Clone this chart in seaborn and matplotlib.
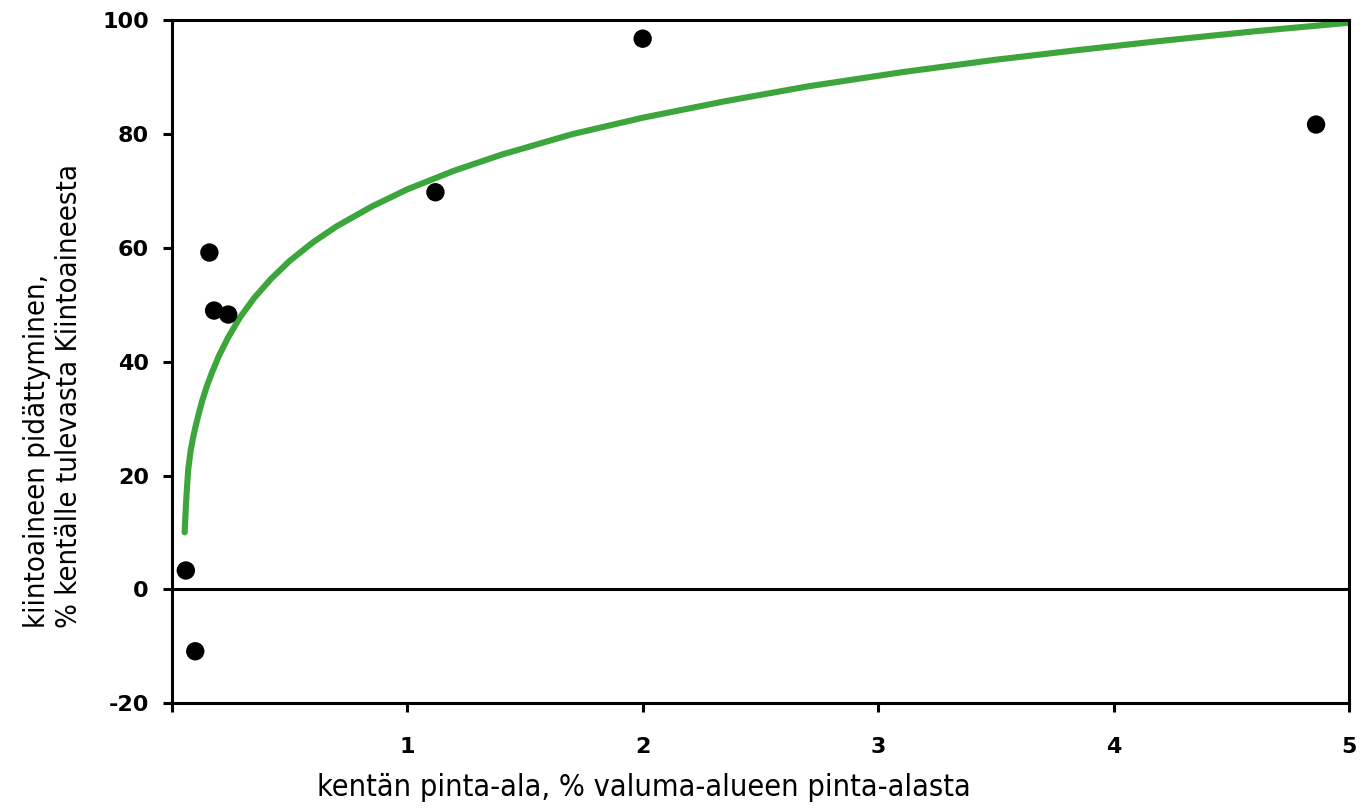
import numpy as np
import pandas as pd
import matplotlib
matplotlib.use("Agg")
import matplotlib.pyplot as plt
import seaborn as sns

# Observed points
area_pct = [0.06, 0.10, 0.16, 0.18, 0.24, 1.12, 2.00, 4.86]
retention_pct = [3.3, -10.9, 59.2, 49.0, 48.3, 69.8, 96.8, 81.7]

# Trend line
curve_x = [0.055, 0.06, 0.065, 0.07, 0.08, 0.09, 0.10, 0.115, 0.13, 0.15,
           0.17, 0.20, 0.24, 0.29, 0.35, 0.42, 0.50, 0.60, 0.70, 0.85,
           1.00, 1.20, 1.40, 1.70, 2.00, 2.35, 2.70, 3.10, 3.50, 3.85,
           4.20, 4.60, 5.00]
curve_y = [10.0, 14.5, 18.0, 21.0, 24.3, 26.5, 28.4, 30.9, 33.2, 35.8,
           38.0, 41.0, 44.3, 47.8, 51.2, 54.5, 57.7, 61.0, 63.8, 67.3,
           70.3, 73.6, 76.4, 80.0, 82.9, 85.8, 88.4, 90.9, 93.1, 94.8,
           96.4, 98.1, 99.6]

x_ticks = [0, 1, 2, 3, 4, 5]
x_tick_labels = ["", "1", "2", "3", "4", "5"]
y_ticks = [-20, 0, 20, 40, 60, 80, 100]

x_label = "kentän pinta-ala, % valuma-alueen pinta-alasta"
y_label = "kiintoaineen pidättyminen,\n% kentälle tulevasta Kiintoaineesta"

sns.set_style("ticks")
plt.rcParams["font.family"] = ["DejaVu Sans"]
plt.rcParams["axes.unicode_minus"] = False

fig = plt.figure(figsize=(13.65, 8.09), dpi=100)
ax = fig.add_axes([0.1258, 0.1310, 0.9883 - 0.1258, 0.9747 - 0.1310])

pts = pd.DataFrame({"x": area_pct, "y": retention_pct})
cur = pd.DataFrame({"x": curve_x, "y": curve_y})

ax.axhline(0, color="black", lw=2.2, zorder=1)
sns.lineplot(data=cur, x="x", y="y", ax=ax, color="#3ca53b", lw=4.4,
             sort=True, estimator=None, zorder=2)
sns.scatterplot(data=pts, x="x", y="y", ax=ax, color="black", s=175,
                edgecolor="none", zorder=3)

ax.set_xlim(0, 5)
ax.set_ylim(-20, 100)
ax.set_xticks(x_ticks)
ax.set_xticklabels(x_tick_labels)
ax.set_yticks(y_ticks)

for sp in ax.spines.values():
    sp.set_visible(True)
    sp.set_linewidth(2.2)
    sp.set_color("black")
    sp.set_zorder(4)

ax.tick_params(axis="y", direction="out", length=6.5, width=2.2,
               labelsize=16, pad=10, colors="black")
ax.tick_params(axis="x", direction="out", length=6.5, width=2.2,
               labelsize=16, pad=18, colors="black")
for lab in ax.get_xticklabels() + ax.get_yticklabels():
    lab.set_fontweight("bold")

label_font = ["DejaVu Sans"]
ax.set_xlabel(x_label, fontsize=22, family=label_font,
              fontstretch="condensed", color="black")
ax.xaxis.set_label_coords(0.401, -0.103)
ax.set_ylabel("")

fig.text(53 / 1365, 1 - 628 / 809, y_label, rotation=90, ha="center",
         va="bottom", multialignment="left", fontsize=21,
         family=label_font, fontstretch="condensed", linespacing=1.2,
         color="black")

fig.savefig("out.png", dpi=100)
